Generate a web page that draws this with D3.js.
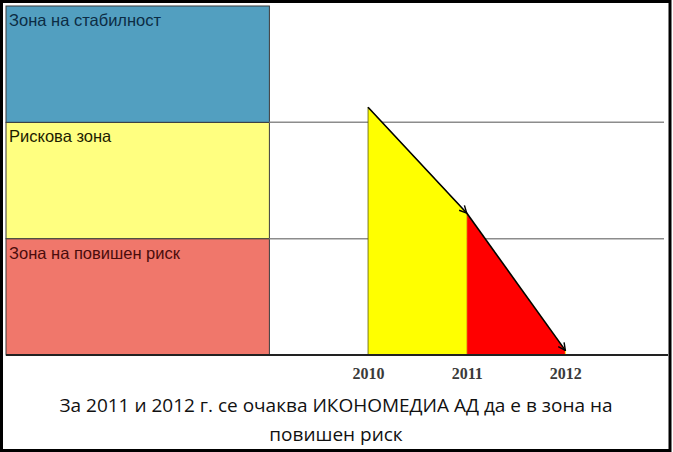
<!DOCTYPE html>
<html>
<head>
<meta charset="utf-8">
<script src="https://cdn.jsdelivr.net/npm/d3@7"></script>
<style>
  body { margin: 0; background: #fff; }
  svg { display: block; }
</style>
</head>
<body>
<div id="chart"></div>
<script>
// zone bands (bottom to top)
var zoneNames = ["Зона на повишен риск", "Рискова зона", "Зона на стабилност"];
var zoneLow = [0, 1, 2];
var zoneHigh = [1, 2, 3];
var zoneColors = ["#f0776b", "#ffff80", "#529fc0"];
var zoneText = ["#4a0c0c", "#1c1c00", "#0c2c44"];

// forecast path
var years = [2010, 2011, 2012];
var values = [2.13, 1.22, 0.04];
var segColors = ["#ffff00", "#ff0000"];

var captionLines = [
  "За 2011 и 2012 г. се очаква ИКОНОМЕДИА АД да е в зона на",
  "повишен риск"
];

var width = 673;
var height = 452;

var xScale = d3.scaleLinear()
  .domain([2006.33, 2013])
  .range([6, 664]);

var yScale = d3.scaleLinear()
  .domain([0, 3])
  .range([355, 6]);

var zoneRight = 2009;

var svg = d3.select("#chart").append("svg")
  .attr("width", width)
  .attr("height", height);

svg.append("defs").append("marker")
  .attr("id", "arrow")
  .attr("viewBox", "0 0 10 10")
  .attr("refX", 9)
  .attr("refY", 5)
  .attr("markerWidth", 9)
  .attr("markerHeight", 9)
  .attr("markerUnits", "userSpaceOnUse")
  .attr("orient", "auto")
  .append("path")
  .attr("d", "M1,1 L9,5 L1,9")
  .attr("fill", "none")
  .attr("stroke", "#000")
  .attr("stroke-width", 1.6);

// zone rectangles
var zones = svg.append("g").attr("class", "zones");
zones.selectAll("rect")
  .data(zoneNames).enter()
  .append("rect")
  .attr("x", xScale.range()[0])
  .attr("y", (d, i) => yScale(zoneHigh[i]))
  .attr("width", xScale(zoneRight) - xScale.range()[0])
  .attr("height", (d, i) => yScale(zoneLow[i]) - yScale(zoneHigh[i]))
  .attr("fill", (d, i) => zoneColors[i])
  .attr("stroke", "#3a3a3a")
  .attr("stroke-width", 1);

zones.selectAll("text")
  .data(zoneNames).enter()
  .append("text")
  .attr("x", xScale.range()[0] + 3)
  .attr("y", (d, i) => yScale(zoneHigh[i]) + 20)
  .attr("fill", (d, i) => zoneText[i])
  .style("font-family", "'Liberation Sans', Arial, sans-serif")
  .style("font-size", "16.5px")
  .text(d => d);

// gridlines at zone borders
svg.append("g")
  .selectAll("line")
  .data([1, 2]).enter()
  .append("line")
  .attr("x1", xScale(zoneRight))
  .attr("x2", xScale.range()[1])
  .attr("y1", d => yScale(d))
  .attr("y2", d => yScale(d))
  .attr("stroke", "#8c8c8c")
  .attr("stroke-width", 1.5);

// filled segments under the forecast line
var segments = d3.range(years.length - 1).map(i => [
  [years[i], 0], [years[i], values[i]], [years[i + 1], values[i + 1]], [years[i + 1], 0]
]);

var area = d3.line()
  .x(d => xScale(d[0]))
  .y(d => yScale(d[1]));

svg.append("g")
  .selectAll("path")
  .data(segments).enter()
  .append("path")
  .attr("d", d => area(d) + "Z")
  .attr("fill", (d, i) => segColors[i])
  .attr("stroke", (d, i) => i == 0 ? "#5a5a00" : "#ffff00")
  .attr("stroke-width", 0.8);

// arrows
svg.append("g")
  .selectAll("line")
  .data(d3.range(years.length - 1)).enter()
  .append("line")
  .attr("x1", i => xScale(years[i]))
  .attr("y1", i => yScale(values[i]))
  .attr("x2", i => xScale(years[i + 1]))
  .attr("y2", i => yScale(values[i + 1]))
  .attr("stroke", "#000")
  .attr("stroke-width", 1.6)
  .attr("marker-end", "url(#arrow)");

// x axis
var xAxis = d3.axisBottom(xScale)
  .tickValues(years)
  .tickFormat(d3.format("d"))
  .tickSize(0)
  .tickPadding(13);

var ax = svg.append("g")
  .attr("transform", `translate(0, ${yScale(0)})`)
  .call(xAxis);
ax.select(".domain")
  .attr("d", `M${xScale.range()[0]},0H668`)
  .attr("stroke", "#222")
  .attr("stroke-width", 2);
ax.selectAll("text")
  .style("font-family", "'Liberation Serif', serif")
  .style("font-size", "16px")
  .style("font-weight", "bold")
  .attr("fill", "#3a3a3a");

// caption
svg.append("g")
  .selectAll("text")
  .data(captionLines).enter()
  .append("text")
  .attr("x", 336)
  .attr("y", (d, i) => 412 + i * 29)
  .attr("text-anchor", "middle")
  .style("font-family", "'Open Sans', sans-serif")
  .style("font-size", "19px")
  .attr("fill", "#111")
  .text(d => d);

// outer frame
svg.append("rect")
  .attr("x", 1.5)
  .attr("y", 1.5)
  .attr("width", width - 4.5)
  .attr("height", height - 3)
  .attr("fill", "none")
  .attr("stroke", "#000")
  .attr("stroke-width", 3);
</script>
</body>
</html>
